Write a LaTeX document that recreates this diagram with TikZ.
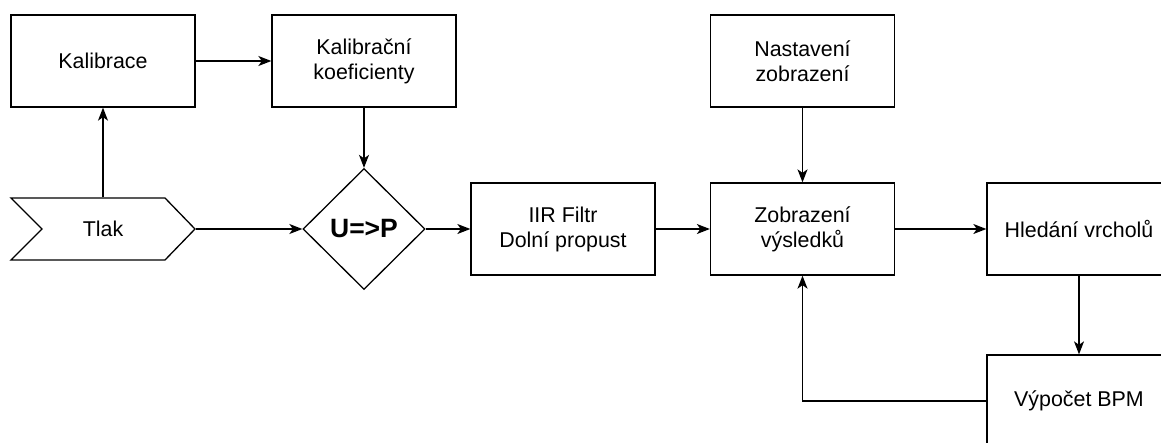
\documentclass[tikz,border=0pt]{standalone}
\usepackage{fontspec}
\setmainfont{Liberation Sans}
\usetikzlibrary{arrows.meta,shapes.geometric}
\begin{document}
\begin{tikzpicture}[x=1pt,y=-1pt,
  line width=1.3pt,
  txt/.style={font=\fontsize{21.4}{25}\selectfont, align=center},
  block/.style={draw, rectangle, minimum width=184pt, minimum height=92pt, inner sep=0pt, txt},
  arr/.style={-{Stealth[length=13pt,width=10pt,inset=3.5pt]}}]
\useasboundingbox (0,0) rectangle (1161,442);
\clip (0,0) rectangle (1161,442);

% top row
\node[block] (kal)  at (103,61)  {Kalibrace};
\node[block] (koef) at (364,61)  {Kalibrační\\koeficienty};
\node[block] (nast) at (802.5,61) {Nastavení\\zobrazení};

% signal chain
\draw[line join=miter] (11,198) -- (165,198) -- (195,229) -- (165,260) -- (11,260) -- (42,229) -- cycle;
\node[rectangle, minimum width=184pt, minimum height=62pt, inner sep=0pt, txt] (tlak) at (103,229) {Tlak};
\node[draw, diamond, minimum width=122pt, minimum height=121pt, inner sep=0pt,
      font=\fontsize{26.5}{30}\bfseries\selectfont] (conv) at (364,229) {U=>P};
\node[block] (iir)  at (563,229)  {IIR Filtr\\Dolní propust};
\node[block] (zob)  at (802.5,229) {Zobrazení\\výsledků};
\node[block] (peak) at (1079,229) {Hledání vrcholů};
\node[block] (bpm)  at (1079,401) {Výpočet BPM};

% connectors
\draw[arr] (kal) -- (koef);
\draw[arr] (tlak.north) -- (kal.south);
\draw[arr] (koef.south) -- (conv.north);
\draw[arr] (tlak.east) -- (conv.west);
\draw[arr] (conv.east) -- (iir.west);
\draw[arr] (iir) -- (zob);
\draw[arr] (nast) -- (zob);
\draw[arr] (zob) -- (peak);
\draw[arr] (peak) -- (bpm);
\draw[arr] (bpm.west) -| (zob.south);
\end{tikzpicture}
\end{document}
